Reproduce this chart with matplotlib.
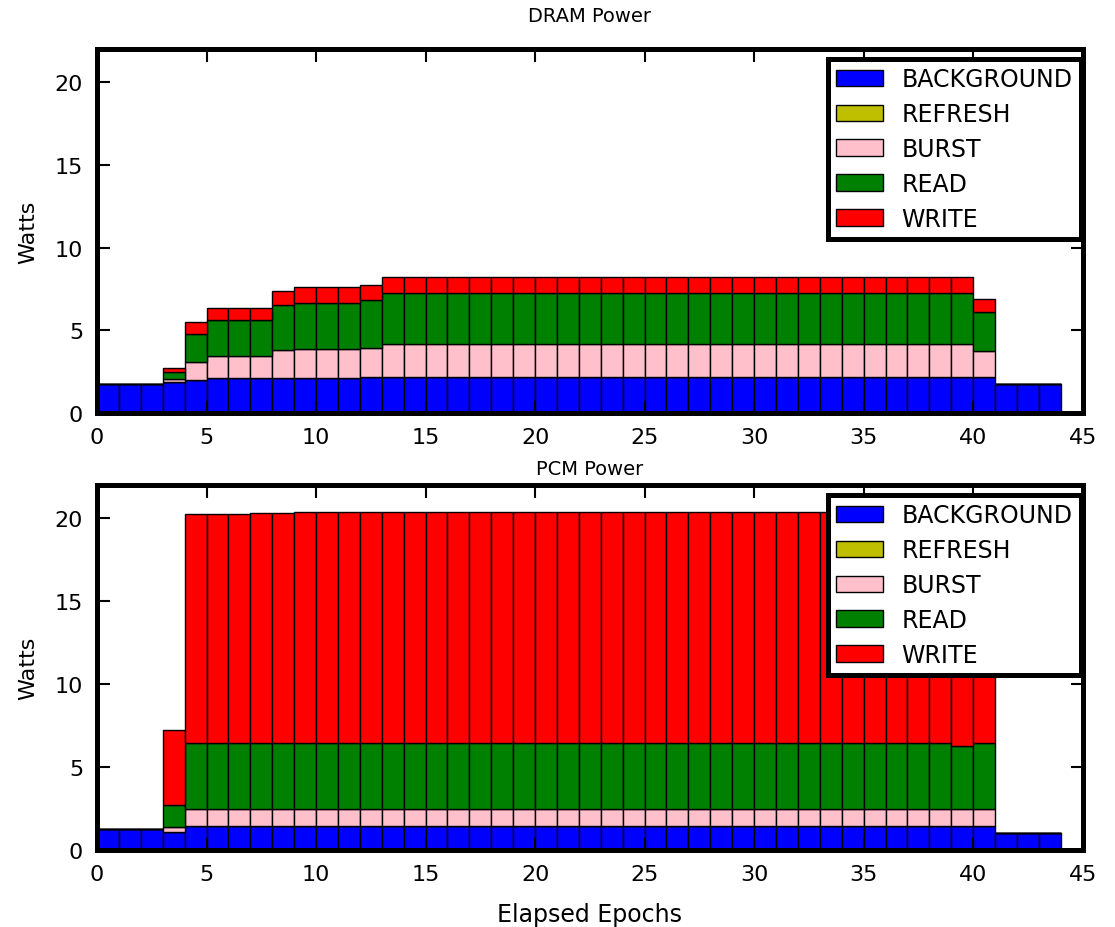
import numpy as np
import matplotlib
matplotlib.use("Agg")
import matplotlib.pyplot as plt

epochs = list(range(44))

# DRAM power components (Watts) per epoch
dram_background = [1.75, 1.75, 1.75, 1.87, 2.0, 2.09, 2.09, 2.09, 2.1, 2.1, 2.1, 2.1, 2.2] + [2.17] * 28 + [1.75, 1.75, 1.75]
dram_refresh = [0.0] * 44
dram_burst = [0.0, 0.0, 0.0, 0.18, 1.09, 1.36, 1.36, 1.36, 1.7, 1.75, 1.75, 1.75, 1.73] + [1.98] * 27 + [1.56, 0.0, 0.0, 0.0]
dram_read = [0.0, 0.0, 0.0, 0.42, 1.71, 2.17, 2.17, 2.17, 2.7, 2.82, 2.82, 2.82, 2.87] + [3.1] * 27 + [2.37, 0.0, 0.0, 0.0]
dram_write = [0.0, 0.0, 0.0, 0.24, 0.7, 0.71, 0.71, 0.71, 0.9, 0.93, 0.93, 0.93, 0.95] + [0.95] * 27 + [0.8, 0.0, 0.0, 0.0]

# PCM power components (Watts) per epoch
pcm_background = [1.25, 1.25, 1.25, 1.1] + [1.45] * 37 + [1.05, 1.05, 1.05]
pcm_refresh = [0.0] * 44
pcm_burst = [0.0, 0.0, 0.0, 0.3] + [1.05] * 35 + [1.0, 1.05] + [0.0, 0.0, 0.0]
pcm_read = [0.0, 0.0, 0.0, 1.3] + [3.95] * 35 + [3.8, 3.95] + [0.0, 0.0, 0.0]
pcm_write = [0.0, 0.0, 0.0, 4.55, 13.79, 13.79, 13.79, 13.85, 13.88] + [13.93] * 30 + [14.13, 13.93] + [0.0, 0.0, 0.0]

labels = ["BACKGROUND", "REFRESH", "BURST", "READ", "WRITE"]
colors = ["#0000ff", "#bfbf00", "pink", "#008000", "#ff0000"]

plt.rcParams["font.family"] = "DejaVu Sans"
plt.rcParams["font.size"] = 16

fig = plt.figure(figsize=(11.15, 9.28), dpi=100)
ax1 = fig.add_axes([0.087, 0.554, 0.884, 0.392])
ax2 = fig.add_axes([0.087, 0.083, 0.884, 0.393])


def draw(ax, series, title, title_pad):
    bottom = np.zeros(len(epochs))
    for vals, lab, col in zip(series, labels, colors):
        ax.bar(epochs, vals, width=1.0, bottom=bottom, align="edge",
               color=col, edgecolor="black", linewidth=1.0, label=lab)
        bottom += np.array(vals)
    ax.set_xlim(0, 45)
    ax.set_ylim(0, 22)
    ax.set_xticks(range(0, 46, 5))
    ax.set_yticks([0, 5, 10, 15, 20])
    ax.set_ylabel("Watts", fontsize=16, labelpad=12)
    ax.set_title(title, fontsize=14, pad=title_pad)
    for s in ax.spines.values():
        s.set_linewidth(3.6)
    ax.tick_params(direction="in", length=9, width=1.5, top=True, right=True,
                   labelsize=16, pad=10)
    leg = ax.legend(loc="upper right", bbox_to_anchor=(0.998, 0.973),
                    borderaxespad=0, fontsize=17, fancybox=False,
                    framealpha=1, edgecolor="black", handlelength=2.0,
                    handleheight=0.7, labelspacing=0.46, handletextpad=0.76,
                    borderpad=0.35)
    leg.get_frame().set_linewidth(3.6)


draw(ax1, [dram_background, dram_refresh, dram_burst, dram_read, dram_write], "DRAM Power", 20)
draw(ax2, [pcm_background, pcm_refresh, pcm_burst, pcm_read, pcm_write], "PCM Power", 8)
ax2.set_xlabel("Elapsed Epochs", fontsize=17, labelpad=13)

plt.savefig("out.png", dpi=100)
